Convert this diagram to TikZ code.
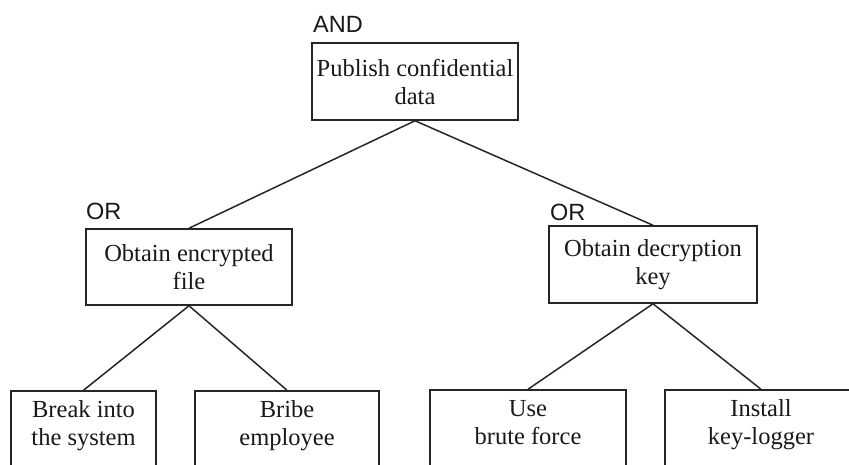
\documentclass[tikz,border=0pt]{standalone}
\usepackage{fontspec}
\setmainfont{Liberation Serif}
\newfontfamily\gatefont{Liberation Sans}
\begin{document}
\begin{tikzpicture}[x=1pt,y=-1pt,
  goal/.style={draw=black!85, line width=1.5pt, inner sep=0pt, align=center,
    font=\fontsize{24.5}{28}\selectfont, text=black!90},
  leaf/.style={draw=black!85, line width=1.5pt, inner sep=0pt, anchor=base,
    text height=26pt, text depth=90pt, font=\fontsize{24.5}{28}\selectfont, text=black!90},
  gate/.style={anchor=base west, inner sep=0pt, font=\gatefont\fontsize{23.5}{28}\selectfont, text=black!90},
  edge/.style={draw=black!85, line width=1.5pt}
]
\useasboundingbox (0,0) rectangle (849,464);
\clip (0,0) rectangle (849,464);

% root goal
\node[goal, minimum width=206pt, minimum height=77pt] (pub) at (415,81.5)
  {Publish confidential\\data};
\node[gate] (andg) at (313,32) {AND};

% intermediate goals
\node[goal, minimum width=206pt, minimum height=76pt] (enc) at (189,267)
  {Obtain encrypted\\file};
\node[gate] (org1) at (86,219) {OR};
\node[goal, minimum width=208pt, minimum height=77pt] (key) at (653,264.5)
  {Obtain decryption\\key};
\node[gate] (org2) at (550,220) {OR};

% leaf attacks
\node[leaf, minimum width=145pt] (brk) at (83.5,417)
  {\begin{tabular}[t]{@{}c@{}}Break into\\the system\end{tabular}};
\node[leaf, minimum width=184pt] (brb) at (287,417)
  {\begin{tabular}[t]{@{}c@{}}Bribe\\employee\end{tabular}};
\node[leaf, minimum width=196pt] (bfc) at (528,416)
  {\begin{tabular}[t]{@{}c@{}}Use\\brute force\end{tabular}};
\node[leaf, minimum width=192pt] (klg) at (761,416)
  {\begin{tabular}[t]{@{}c@{}}Install\\key-logger\end{tabular}};

% tree edges
\draw[edge] (pub.south) -- (enc.north);
\draw[edge] (pub.south) -- (key.north);
\draw[edge] (enc.south) -- (brk.north);
\draw[edge] (enc.south) -- (brb.north);
\draw[edge] (key.south) -- (bfc.north);
\draw[edge] (key.south) -- (klg.north);
\end{tikzpicture}
\end{document}
